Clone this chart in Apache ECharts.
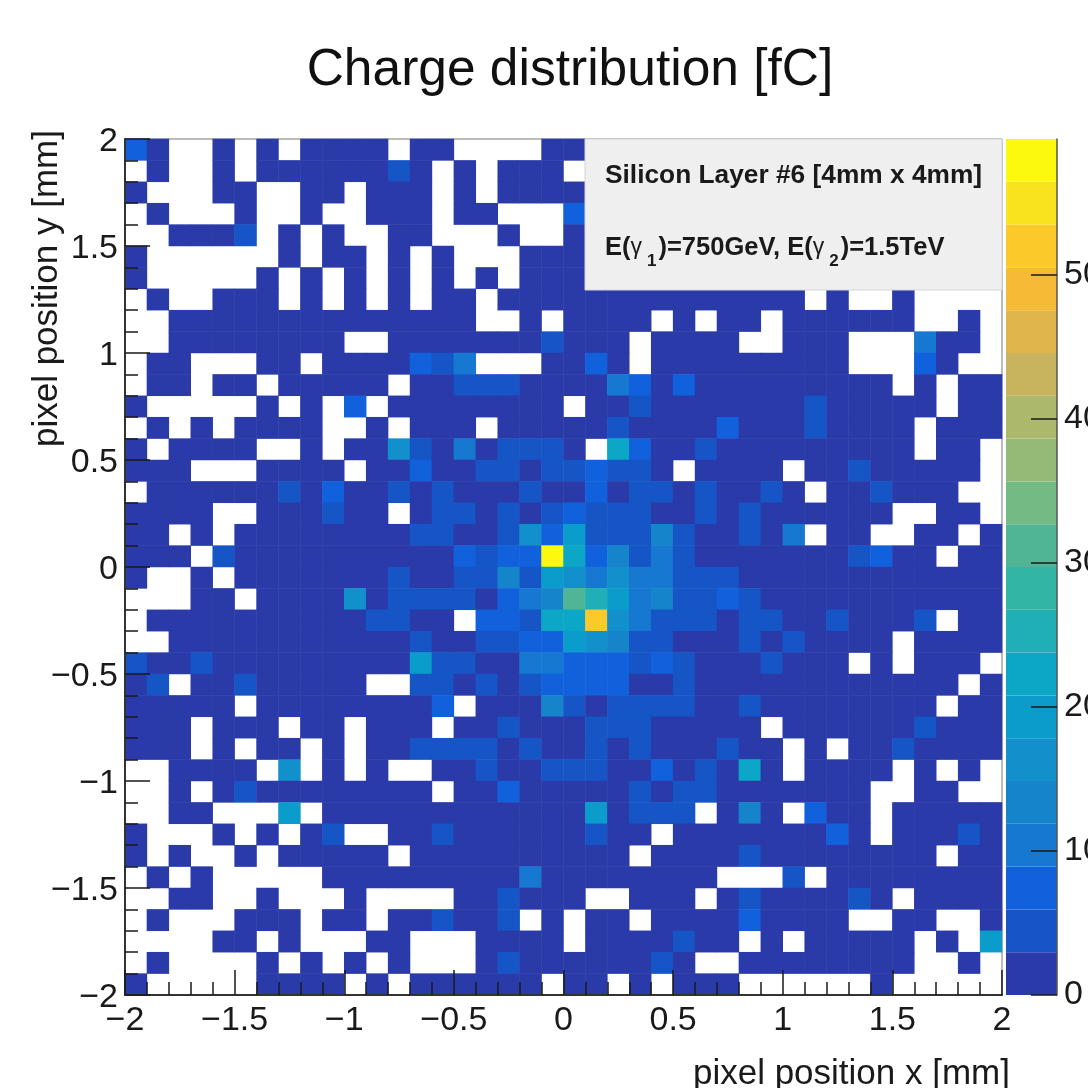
<!DOCTYPE html>
<html>
<head>
<meta charset="utf-8">
<style>html,body{margin:0;padding:0;background:#fff}#c{width:1088px;height:1088px}</style>
<script src="https://cdn.jsdelivr.net/npm/echarts@6/dist/echarts.min.js"></script>
</head>
<body>
<div id="c"></div>
<script>
const _ = null;
const titleText = 'Charge distribution [fC]';
const xTitle = 'pixel position x [mm]';
const yTitle = 'pixel position y [mm]';
const boxLine1 = 'Silicon Layer #6 [4mm x 4mm]';
const xCenters = [-1.95,-1.85,-1.75,-1.65,-1.55,-1.45,-1.35,-1.25,-1.15,-1.05,-0.95,-0.85,-0.75,-0.65,-0.55,-0.45,-0.35,-0.25,-0.15,-0.05,0.05,0.15,0.25,0.35,0.45,0.55,0.65,0.75,0.85,0.95,1.05,1.15,1.25,1.35,1.45,1.55,1.65,1.75,1.85,1.95];
const yCenters = xCenters.slice().reverse();
// fC per pixel, top row first; _ = empty pixel
const charge = [
[7,1,_,_,1,_,1,_,1,1,1,1,_, 1,1,_,_,_,_,1,1,_,_,_,_,_,_, _,_,_,_,_,_,_,_,_,_,_,_,_],
[_,1,_,_,1,_,1,1,1,1,1,1,4, 1,_,1,_,1,1,1,_,_,_,_,_,_,_, _,_,_,_,_,_,_,_,_,_,_,_,_],
[1,_,_,_,1,1,_,_,1,1,_,1,1, 1,_,1,_,1,1,1,1,_,_,_,_,_,_, _,_,_,_,_,_,_,_,_,_,_,_,_],
[_,1,_,_,_,1,_,_,1,_,_,1,1, 1,_,1,1,_,_,_,7,_,_,_,_,_,_, _,_,_,_,_,_,_,_,_,_,_,_,_],
[_,_,1,1,1,4,_,1,_,1,_,_,1, 1,_,_,_,1,_,_,1,_,_,_,_,_,_, _,_,_,_,_,_,_,_,_,_,_,_,_],
[1,_,_,_,_,_,_,1,_,1,1,_,1, _,1,_,_,_,1,1,1,_,_,_,_,_,_, _,_,_,_,_,_,_,_,_,_,_,_,_],
[1,_,_,_,_,_,1,_,1,_,1,_,1, _,1,_,1,_,1,1,1,_,_,_,_,_,_, _,_,_,_,_,_,_,_,_,_,_,_,_],
[_,1,_,_,1,1,1,_,1,_,1,_,1, _,1,1,_,1,1,1,1,1,1,1,1,1,1, 1,1,1,1,_,1,_,_,1,_,_,_,_],
[_,_,1,1,1,1,1,1,1,1,1,1,1, 1,1,1,_,_,1,_,1,1,1,1,_,1,_, 1,1,_,1,1,1,1,1,1,_,_,1,_],
[_,_,1,1,1,1,1,1,1,1,_,_,1, 1,1,1,1,1,1,4,1,1,1,_,1,1,1, 1,_,_,1,1,1,_,_,_,10,1,1,_],
[_,1,1,_,_,_,1,1,_,1,1,1,1, 7,4,10,_,_,_,1,1,7,1,_,1,1,1, 1,1,1,1,1,1,_,_,_,7,1,_,_],
[_,1,1,_,1,1,_,1,1,1,1,1,_, 1,1,4,4,4,1,1,1,1,10,7,1,7,1, 1,1,1,1,1,1,1,1,_,1,_,1,1],
[1,_,_,_,_,_,1,_,1,_,7,_,1, 1,1,1,1,1,1,1,_,1,1,4,1,1,1, 1,1,1,1,4,1,1,1,1,1,_,1,1],
[_,1,_,1,_,1,1,1,1,_,_,1,_, 1,1,1,_,1,1,1,1,1,4,1,1,1,1, 7,1,1,1,4,1,1,1,1,_,1,1,1],
[1,_,1,1,1,1,_,_,1,_,1,1,16, 4,1,10,1,4,4,4,1,_,22,7,1,1,4, 1,1,1,1,1,1,1,1,1,_,1,1,_],
[1,1,1,_,_,_,1,1,1,1,_,1,1, 7,1,1,4,4,1,4,4,7,4,4,1,_,1, 1,1,1,_,1,1,4,1,1,1,1,1,_],
[_,1,1,1,1,1,1,4,1,7,1,1,4, 1,4,1,1,1,4,1,1,7,1,4,4,1,4, 1,1,4,1,_,1,1,4,1,1,1,_,_],
[1,1,1,1,_,_,1,1,1,4,1,1,_, 1,4,4,1,4,1,4,7,4,4,4,1,1,4, 1,4,1,1,1,1,1,1,_,_,1,1,_],
[1,1,_,1,_,1,1,1,1,1,1,1,1, 4,4,1,1,4,16,7,19,4,4,4,13,4,1, 1,4,1,10,_,1,1,_,_,1,1,_,1],
[1,1,1,_,4,1,1,1,1,1,1,1,1, 1,1,7,4,7,7,58,22,7,13,4,10,4,1, 1,1,1,1,1,1,4,7,1,1,_,1,1],
[1,_,_,1,_,1,1,1,1,1,1,1,4, 1,1,4,4,13,4,19,16,10,16,10,10,4,4, 4,1,1,1,1,1,1,1,1,1,1,1,1],
[_,_,_,1,1,_,1,1,1,1,16,1,4, 4,4,4,1,7,10,13,31,25,19,10,13,4,4, 7,4,1,1,1,1,1,1,1,1,1,1,1],
[_,1,1,1,1,1,1,1,1,1,1,4,4, 1,1,_,7,7,4,22,22,52,16,10,4,4,4, 1,4,4,1,1,4,1,1,1,4,_,1,1],
[_,_,1,1,1,1,1,1,1,1,1,1,1, 4,1,1,4,4,7,7,19,16,13,4,4,1,1, 1,4,1,4,1,1,1,1,_,1,1,1,1],
[4,1,1,4,1,1,1,1,1,1,1,1,1, 19,4,4,1,1,10,10,7,7,7,4,7,4,1, 1,1,4,1,1,1,_,1,_,1,1,1,_],
[1,4,_,1,1,4,1,1,1,1,1,_,_, 4,4,1,4,1,4,7,7,7,7,1,1,4,1, 1,1,1,1,1,1,1,1,1,1,1,_,1],
[1,1,1,1,1,_,1,1,1,1,1,1,1, 1,7,_,1,1,1,13,4,1,4,4,4,4,1, 1,4,1,1,1,1,1,1,1,1,_,1,1],
[1,1,1,_,1,1,1,_,1,1,_,1,1, 1,_,1,1,4,1,1,1,4,4,4,1,1,1, 1,1,_,1,1,1,1,1,1,4,1,1,1],
[1,1,1,_,1,_,1,1,_,1,_,1,1, 4,4,4,4,1,4,1,1,4,1,4,1,1,1, 4,1,1,_,1,_,1,1,4,1,1,1,1],
[_,_,1,1,1,1,_,16,_,1,_,1,_, _,1,1,4,1,1,4,4,4,1,1,7,1,4, 1,22,1,_,1,1,1,1,_,1,_,1,_],
[_,_,1,_,1,4,1,1,1,1,1,1,1, 1,_,1,1,7,1,1,1,1,1,4,1,4,4, 1,1,1,1,1,1,1,_,_,1,1,_,_],
[_,_,1,1,_,_,_,19,_,1,1,1,1, 1,1,1,1,1,1,1,1,19,1,4,4,4,_, 1,13,1,_,7,1,1,_,1,1,1,1,1],
[1,_,_,_,1,_,1,_,1,4,_,_,1, 1,4,1,1,1,1,1,1,4,1,1,_,1,1, 1,1,1,1,1,7,1,_,1,1,1,4,1],
[1,_,1,_,_,1,_,1,1,1,1,1,_, 1,1,1,1,1,1,1,1,1,1,_,1,1,1, 1,4,1,1,1,1,1,1,1,1,_,1,1],
[_,1,_,1,_,_,_,_,_,1,1,1,1, 1,1,1,1,1,10,1,1,1,1,1,1,1,1, _,_,_,4,_,1,1,1,1,1,1,1,1],
[_,_,1,1,_,_,1,_,_,_,1,_,_, _,_,1,1,4,1,1,1,_,_,1,1,1,_, 1,4,1,1,1,1,4,1,_,1,1,1,1],
[_,1,_,_,_,1,1,1,_,1,1,_,1, 1,4,1,1,4,_,1,_,1,1,_,1,1,1, 1,7,1,1,1,1,_,_,1,1,_,_,1],
[_,_,_,_,1,1,_,1,_,_,_,1,1, _,_,_,1,1,1,1,_,1,1,1,1,4,1, 1,_,1,_,1,1,1,1,1,_,1,_,19],
[_,1,_,_,_,_,1,_,1,_,1,_,1, _,_,_,1,4,1,1,1,1,1,1,4,1,_, _,1,1,1,1,1,1,1,1,_,_,1,_],
[1,_,_,_,_,_,1,1,1,1,_,1,_, 1,1,1,1,1,1,_,1,1,_,1,_,1,1, 1,_,_,_,_,_,_,1,_,_,_,_,_]
];
const bandColors = ['#2a3aa8','#1555c6','#1160dc','#1678d1','#1584cb','#1290cb','#0a9ccb','#0ca7c6','#20afb6','#33b5a4','#50b594','#72bb84','#93bb77','#acb96d','#c8b45e','#e0b54c','#f6bb36','#fcc92a','#f9e31e','#fdf90e'];
const chargeMax = 59.4;
const bandWidth = chargeMax / bandColors.length;
const colorTicks = [0,10,20,30,40,50];
const font = '"Liberation Sans", Arial, sans-serif';
const ink = '#1a1a1a';

const cells = [];
charge.forEach((row, r) => row.forEach((v, c) => { if (v !== null) cells.push([c, r, v]); }));
const fmt = v => (v < 0 ? '\u2212' + Math.abs(v) : String(v));

const chart = echarts.init(document.getElementById('c'), null, {renderer: 'canvas'});
const posAxis = {
  type: 'value', min: -2, max: 2, interval: 0.5, z: 6,
  axisLine: {show: true, onZero: false, lineStyle: {color: '#333', width: 2}},
  axisTick: {show: true, inside: true, length: 25, lineStyle: {color: ink, width: 1.5}},
  minorTick: {show: true, splitNumber: 5, length: 13, lineStyle: {color: ink, width: 1.5}},
  splitLine: {show: false}, minorSplitLine: {show: false}
};
const labelBase = {color: ink, fontSize: 34, fontFamily: font, hideOverlap: false, showMinLabel: true, showMaxLabel: true};
chart.setOption({
  animation: false,
  backgroundColor: '#fff',
  title: {text: titleText, left: 565, top: 40, textAlign: 'center',
    textStyle: {fontFamily: font, fontWeight: 'normal', fontSize: 51.5, color: '#111'}},
  grid: [
    {left: 125, top: 139, width: 877, height: 856, show: true, borderColor: '#777', borderWidth: 1, backgroundColor: 'transparent', outerBoundsMode: 'none'},
    {left: 1006, top: 139, width: 51, height: 856, outerBoundsMode: 'none'}
  ],
  xAxis: [
    {type: 'category', gridIndex: 0, data: xCenters, show: false},
    Object.assign({}, posAxis, {gridIndex: 0, position: 'bottom', name: xTitle, nameLocation: 'end', nameGap: 8,
      axisLabel: Object.assign({}, labelBase, {margin: 9, formatter: fmt}),
      nameTextStyle: {fontFamily: font, fontSize: 35, color: ink, align: 'right', verticalAlign: 'top', padding: [62, 0, 0, 0]}}),
    {type: 'category', gridIndex: 1, data: ['fC'], show: false}
  ],
  yAxis: [
    {type: 'category', gridIndex: 0, data: yCenters, inverse: true, show: false},
    Object.assign({}, posAxis, {gridIndex: 0, position: 'left', name: yTitle, nameLocation: 'end', nameRotate: 90, nameGap: 9,
      axisLabel: Object.assign({}, labelBase, {margin: 7, formatter: v => '{a|' + fmt(v) + '}',
        rich: {a: {color: ink, fontSize: 34, fontFamily: font, padding: [6, 0, 0, 0]}}}),
      nameTextStyle: {fontFamily: font, fontSize: 35, color: ink, align: 'right', verticalAlign: 'bottom', padding: [0, 0, 60, 0]}}),
    {type: 'value', gridIndex: 1, position: 'right', min: 0, max: chargeMax, z: 6,
      axisLine: {show: true, onZero: false, lineStyle: {color: '#555', width: 1.5}},
      axisTick: {show: true, inside: true, length: 26, customValues: colorTicks, lineStyle: {color: ink, width: 1.5}},
      splitLine: {show: false},
      axisLabel: {color: ink, fontSize: 34, fontFamily: font, margin: 7, customValues: colorTicks}}
  ],
  visualMap: {
    type: 'piecewise', show: false, seriesIndex: 0, dimension: 2,
    pieces: bandColors.map((color, i) => ({gte: i * bandWidth, lt: (i + 1) * bandWidth, color}))
  },
  series: [
    {type: 'heatmap', xAxisIndex: 0, yAxisIndex: 0, data: cells, silent: true, z: 2, progressive: 0},
    ...bandColors.map((color, i) => ({
      type: 'bar', xAxisIndex: 2, yAxisIndex: 2, stack: 'bar', barWidth: '100%', silent: true,
      data: [bandWidth], itemStyle: {color}
    }))
  ],
  graphic: [
    {type: 'rect', z: 10, shape: {x: 585, y: 139, width: 417, height: 151},
      style: {fill: '#efefef', stroke: '#d5d5d5', lineWidth: 1}},
    {type: 'text', z: 11, x: 605, y: 176,
      style: {text: boxLine1, fontFamily: font, fontWeight: 'bold', fontSize: 26.3, fill: '#1a1a1a', verticalAlign: 'middle'}},
    {type: 'text', z: 11, x: 605, y: 248,
      style: {
        text: '{b|E(}{g|\u03b3}{s|1}{b|)=750GeV, E(}{g|\u03b3}{s|2}{b|)=1.5TeV}',
        fontFamily: font, fill: '#1a1a1a', verticalAlign: 'middle',
        rich: {
          b: {fontFamily: font, fontWeight: 'bold', fontSize: 25.5, fill: '#1a1a1a'},
          g: {fontFamily: font, fontSize: 23, fill: '#1a1a1a', padding: [0, 5, 0, 0]},
          s: {fontFamily: font, fontWeight: 'bold', fontSize: 17, fill: '#1a1a1a', padding: [26, 2, 0, 0]}
        }
      }}
  ]
});
</script>
</body>
</html>
